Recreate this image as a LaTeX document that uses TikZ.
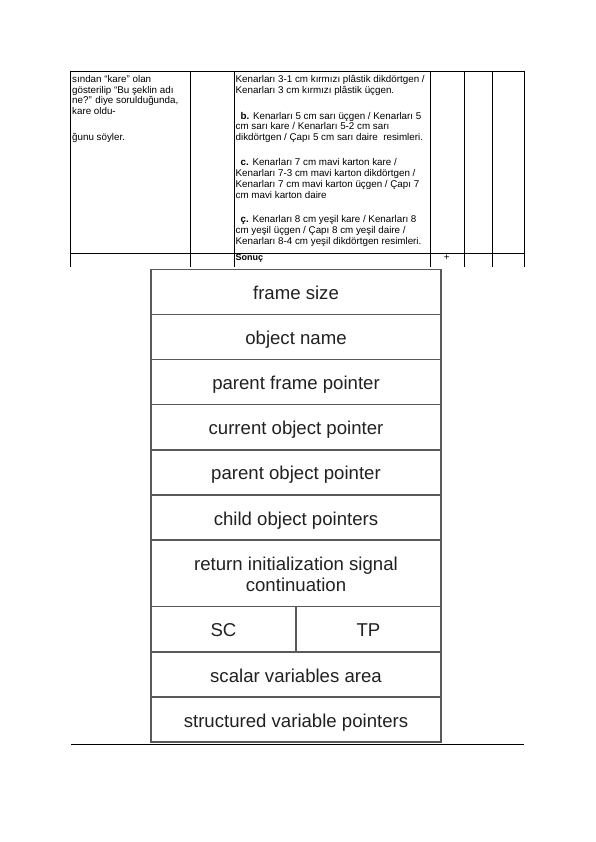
\documentclass[tikz,border=0pt]{standalone}
\usepackage{fontspec}
\setmainfont{Liberation Sans}
\begin{document}
\begin{tikzpicture}[x=1pt,y=-1pt,
  tline/.style={line width=0.8pt, draw=black},
  dline/.style={line width=1.4pt, draw=black!65},
  ttext/.style={anchor=base west, inner sep=0pt, font=\fontsize{9.8}{10.8}\selectfont, text=black},
  dtext/.style={anchor=base, inner sep=0pt, font=\fontsize{18.6}{21}\selectfont, text=black!87}]
\useasboundingbox (0,0) rectangle (596,842);
\fill[white] (0,0) rectangle (596,842);
% ---------- table ----------
\draw[tline] (70,71) -- (524,71);
\draw[tline] (70,253) -- (524,253);
\foreach \x in {70,190,234,430,464,492,524} \draw[tline] (\x,71) -- (\x,267);
% column 1
\node[ttext] (a1) at (72,82.3) {sından “kare” olan};
\node[ttext] (a2) at (72,93.1) {gösterilip “Bu şeklin adı};
\node[ttext] (a3) at (72,103.9) {ne?” diye sorulduğunda,};
\node[ttext] (a4) at (72,114.7) {kare oldu-};
\node[ttext] (a5) at (72,140.7) {ğunu söyler.};
% column 3
\node[ttext] (c1) at (235.5,82.3) {Kenarları 3-1 cm kırmızı plâstik dikdörtgen /};
\node[ttext] (c2) at (235.5,93.1) {Kenarları 3 cm kırmızı plâstik üçgen.};
\node[ttext] (c3) at (235.5,119.1) {\hspace{5pt}\textbf{b.} Kenarları 5 cm sarı üçgen / Kenarları 5};
\node[ttext] (c4) at (235.5,129.9) {cm sarı kare / Kenarları 5-2 cm sarı};
\node[ttext] (c5) at (235.5,140.7) {dikdörtgen / Çapı 5 cm sarı daire\ \ resimleri.};
\node[ttext] (c6) at (235.5,165.9) {\hspace{5pt}\textbf{c.} Kenarları 7 cm mavi karton kare /};
\node[ttext] (c7) at (235.5,176.7) {Kenarları 7-3 cm mavi karton dikdörtgen /};
\node[ttext] (c8) at (235.5,187.5) {Kenarları 7 cm mavi karton üçgen / Çapı 7};
\node[ttext] (c9) at (235.5,198.3) {cm mavi karton daire};
\node[ttext] (c10) at (235.5,222.6) {\hspace{5pt}\textbf{ç.} Kenarları 8 cm yeşil kare / Kenarları 8};
\node[ttext] (c11) at (235.5,233.4) {cm yeşil üçgen / Çapı 8 cm yeşil daire /};
\node[ttext] (c12) at (235.5,244.2) {Kenarları 8-4 cm yeşil dikdörtgen resimleri.};
\node[ttext, font=\bfseries\fontsize{9}{10}\selectfont] (son) at (235.5,260.3) {Sonuç};
\node[ttext, anchor=base] (plus) at (446.7,260.3) {+};
% ---------- diagram ----------
\draw[dline] (151,269.5) rectangle (441,742);
\foreach \y in {314.5,359.5,404.7,449.8,495,540,606.7,652,697}
  \draw[dline] (151,\y) -- (441,\y);
\draw[dline] (296,606.7) -- (296,652);
\node[dtext] (r1) at (296,299.5) {frame size};
\node[dtext] (r2) at (296,344.5) {object name};
\node[dtext] (r3) at (296,389.5) {parent frame pointer};
\node[dtext] (r4) at (296,434.7) {current object pointer};
\node[dtext] (r5) at (296,479.8) {parent object pointer};
\node[dtext] (r6) at (296,525) {child object pointers};
\node[dtext] (r7a) at (296,570.5) {return initialization signal};
\node[dtext] (r7b) at (296,591.5) {continuation};
\node[dtext] (sc) at (223.5,636.7) {SC};
\node[dtext] (tp) at (368.5,636.7) {TP};
\node[dtext] (r9) at (296,682) {scalar variables area};
\node[dtext] (r10) at (296,727) {structured variable pointers};
\draw[line width=0.8pt] (71,744.3) -- (524,744.3);
\end{tikzpicture}
\end{document}
